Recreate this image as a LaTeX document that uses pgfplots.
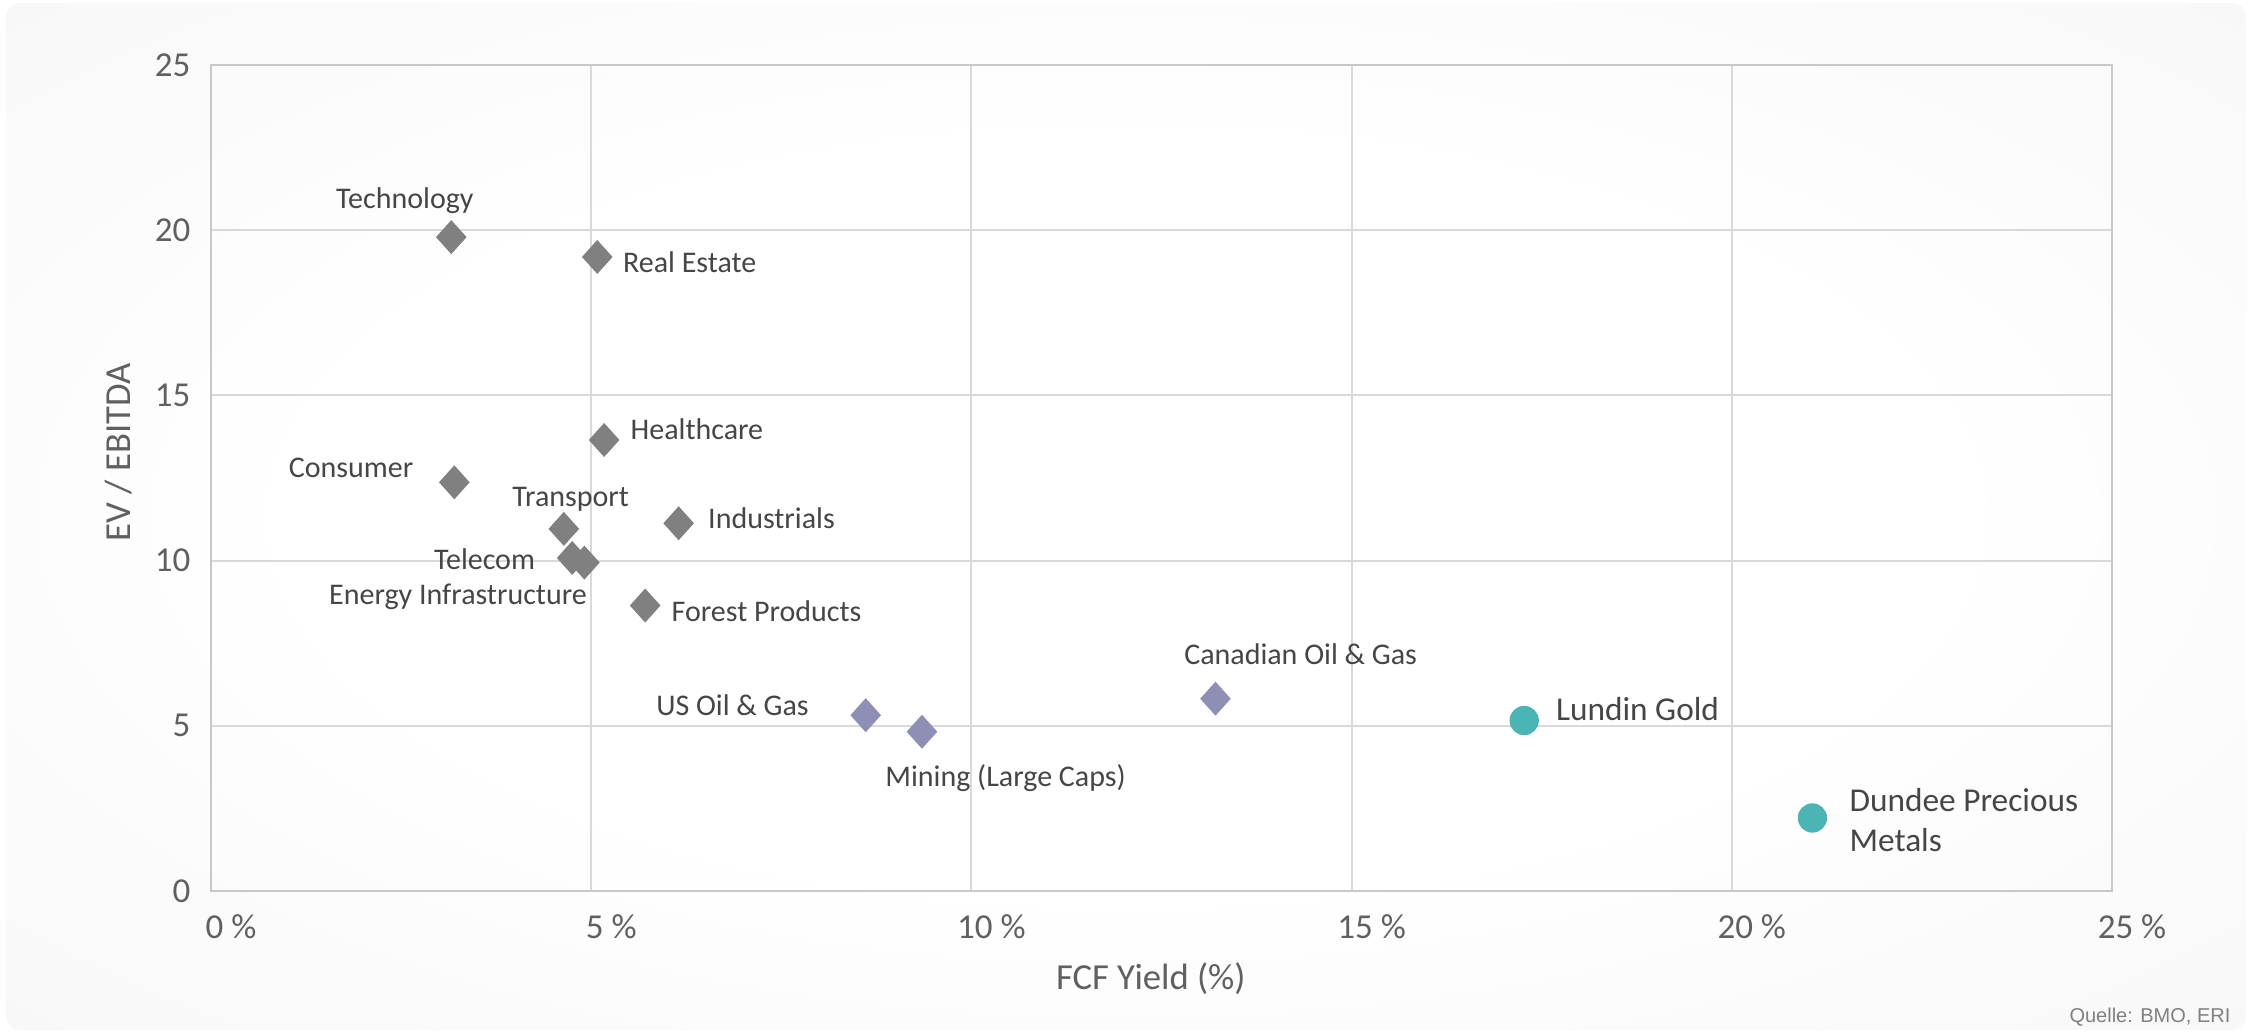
\documentclass[border=0pt]{standalone}
\usepackage{fontspec}
\setmainfont{Carlito}
\newfontfamily\srcfont{Liberation Sans}
\usepackage{pgfplots}
\pgfplotsset{compat=1.18}
\definecolor{gridgray}{HTML}{D9D9D9}
\definecolor{axisgray}{HTML}{C8C8C8}
\definecolor{ticktext}{HTML}{606060}
\definecolor{labeltext}{HTML}{464646}
\definecolor{sectorgray}{HTML}{808080}
\definecolor{energyblue}{HTML}{8F8FB5}
\definecolor{goldteal}{HTML}{4BB5B5}
\pgfdeclareradialshading{bgshade}{\pgfpoint{0bp}{0bp}}{color(0bp)=(white); color(18bp)=(white); color(50bp)=(black!5); color(71bp)=(black!8)}
\tikzset{
  lab/.style={font=\fontsize{9}{11}\selectfont, text=labeltext, inner sep=0pt},
  big/.style={font=\fontsize{10}{12}\selectfont, text=labeltext, inner sep=0pt},
}

\begin{document}
\begin{tikzpicture}
  % page = 2251 x 1034 px at 0.3pt per px
  \useasboundingbox (-63.3pt,-42.9pt) rectangle (612pt,267.3pt);
  \shade[shading=bgshade, rounded corners=4pt] (-61.5pt,-41.7pt) rectangle (610.5pt,266.4pt);

  \begin{axis}[
      at={(0,0)}, anchor=south west,
      scale only axis,
      width=570.3pt, height=247.8pt,
      xmin=0, xmax=25, ymin=0, ymax=25,
      axis line style={draw=axisgray, line width=0.6pt},
      grid=major,
      major grid style={draw=gridgray, line width=0.6pt},
      tick style={draw=none},
      xtick={0,5,...,25},
      xticklabels={0 \%, 5 \%, 10 \%, 15 \%, 20 \%, 25 \%},
      ytick={0,5,...,25},
      yticklabels={0,5,10,15,20,25},
      tick label style={font=\fontsize{10.5}{12}\selectfont, text=ticktext},
      xticklabel style={anchor=north, inner sep=0pt, yshift=-7pt, xshift=6pt},
      yticklabel style={anchor=east, inner sep=0pt, xshift=-6pt},
      xlabel={FCF Yield (\%)},
      ylabel={EV / EBITDA},
      label style={font=\fontsize{11}{13}\selectfont, text=ticktext},
      xlabel style={at={(rel axis cs:0.5,0)}, anchor=center, yshift=-26.4pt, xshift=-3.2pt},
      ylabel style={at={(rel axis cs:0,0.5)}, anchor=center, yshift=27.6pt, xshift=7.7pt},
      clip=false,
    ]

    % sectors
    \addplot[only marks, mark=diamond*, mark size=4.8pt,
      mark options={xscale=1.2, draw=sectorgray, fill=sectorgray}]
      coordinates {(3.16,19.79) (5.08,19.19) (5.17,13.65) (3.20,12.37)
                   (4.64,10.96) (6.15,11.13) (4.75,10.08) (4.91,9.94) (5.71,8.64)};

    % oil, gas and mining
    \addplot[only marks, mark=diamond*, mark size=4.8pt,
      mark options={xscale=1.2, draw=energyblue, fill=energyblue}]
      coordinates {(8.61,5.32) (9.35,4.82) (13.21,5.82)};

    % companies
    \addplot[only marks, mark=*, mark size=4.2pt,
      mark options={draw=goldteal, fill=goldteal}]
      coordinates {(17.27,5.16) (21.06,2.21)};

    \node[lab, anchor=base] at (axis cs:2.55,20.66) {Technology};
    \node[lab, anchor=base west] at (axis cs:5.41,18.71) {Real Estate};
    \node[lab, anchor=base west] at (axis cs:5.51,13.65) {Healthcare};
    \node[lab, anchor=base east] at (axis cs:2.67,12.50) {Consumer};
    \node[lab, anchor=base] at (axis cs:4.73,11.64) {Transport};
    \node[lab, anchor=base west] at (axis cs:6.53,10.98) {Industrials};
    \node[lab, anchor=base east] at (axis cs:4.27,9.72) {Telecom};
    \node[lab, anchor=base east] at (axis cs:4.95,8.68) {Energy Infrastructure};
    \node[lab, anchor=base west] at (axis cs:6.05,8.17) {Forest Products};
    \node[lab, anchor=base east] at (axis cs:7.87,5.30) {US Oil \& Gas};
    \node[lab, anchor=base] at (axis cs:10.45,3.17) {Mining (Large Caps)};
    \node[lab, anchor=base] at (axis cs:14.33,6.85) {Canadian Oil \& Gas};
    \node[big, anchor=base west] at (axis cs:17.68,5.16) {Lundin Gold};
    \node[big, anchor=base west] at (axis cs:21.54,2.40) {Dundee Precious};
    \node[big, anchor=base west] at (axis cs:21.54,1.20) {Metals};
  \end{axis}

  \node[anchor=base east, inner sep=0pt, text=black!50,
    font=\srcfont\fontsize{6}{7}\selectfont] at (606pt,-39.6pt) {Quelle: BMO, ERI};
\end{tikzpicture}
\end{document}
